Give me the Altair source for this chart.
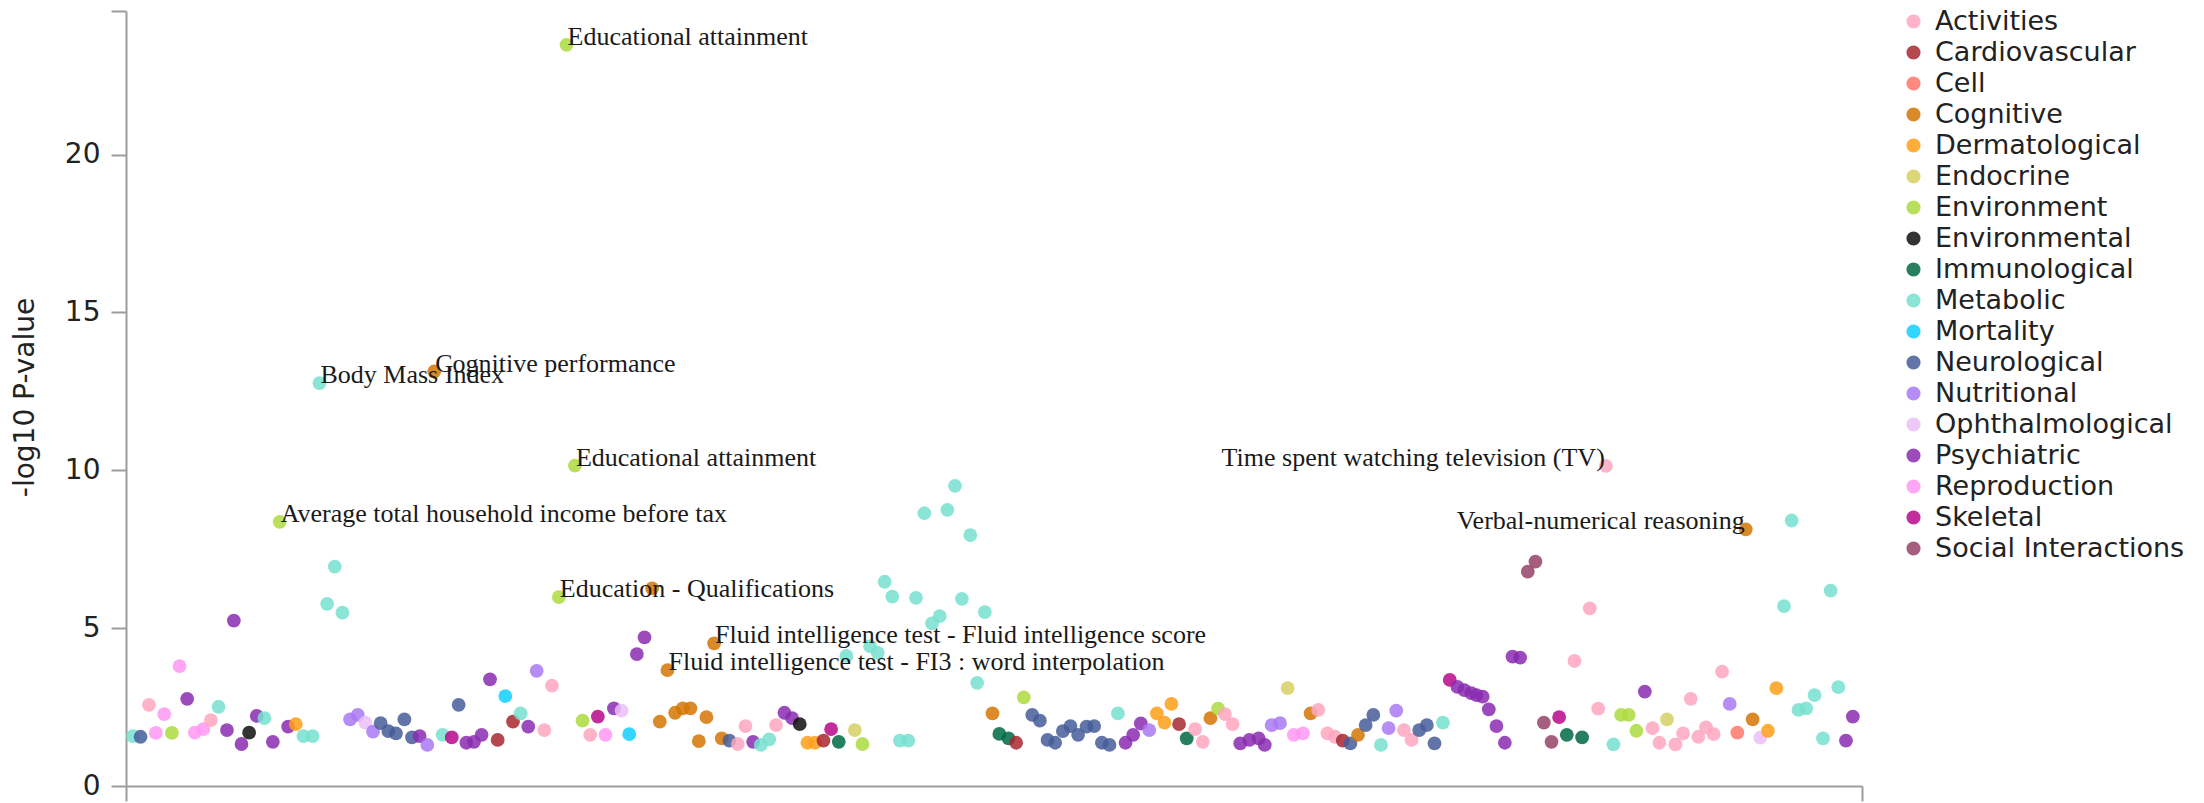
import altair as alt
import pandas as pd

# ---- category names and observed (rendered) colours ----
cat_codes = ["Act", "Car", "Cel", "Cog", "Der", "End", "Env", "Evl", "Imm",
             "Met", "Mor", "Neu", "Nut", "Oph", "Psy", "Rep", "Ske", "Soc"]
cat_names = ["Activities", "Cardiovascular", "Cell", "Cognitive", "Dermatological",
             "Endocrine", "Environment", "Environmental", "Immunological", "Metabolic",
             "Mortality", "Neurological", "Nutritional", "Ophthalmological",
             "Psychiatric", "Reproduction", "Skeletal", "Social Interactions"]
cat_rgb = [(255, 179, 201), (181, 71, 79), (255, 138, 128), (218, 138, 42),
           (255, 173, 58), (220, 215, 122), (184, 224, 90), (51, 51, 51),
           (14, 127, 95), (138, 229, 214), (51, 214, 255), (98, 117, 168),
           (182, 140, 245), (237, 200, 248), (155, 75, 188), (255, 166, 245),
           (194, 45, 155), (166, 94, 127)]

# ---- phenotype position (index order), -log10 P, category ----
pos = [0.9, 1.9, 3.0, 3.9, 5.0, 6.0, 7.0, 8.0, 9.0, 10.1, 11.1, 12.1, 13.2, 14.1, 15.1, 16.1,
       17.1, 18.1, 19.2, 20.1, 21.2, 22.2, 23.2, 24.4, 25.3, 26.3, 27.3, 28.3, 29.3, 30.3,
       31.3, 32.3, 33.3, 34.3, 35.3, 36.4, 37.4, 38.4, 39.4, 40.3, 41.4, 42.6, 43.5, 44.5,
       45.5, 46.5, 47.6, 48.6, 49.6, 50.6, 51.6, 52.6, 53.7, 54.7, 55.7, 56.6, 57.6, 58.7,
       59.7, 60.7, 61.7, 62.7, 63.8, 64.8, 65.8, 66.8, 67.8, 68.8, 69.8, 70.8, 71.8, 72.8,
       73.8, 74.9, 75.9, 76.9, 77.9, 78.9, 80.0, 81.0, 82.0, 83.0, 84.1, 85.0, 86.1, 87.1,
       88.1, 89.1, 90.1, 91.2, 92.2, 93.2, 94.2, 95.3, 96.3, 97.3, 98.3, 99.2, 100.2, 101.2,
       102.3, 103.3, 104.4, 105.4, 106.4, 107.4, 108.4, 109.3, 110.4, 111.3, 112.3, 113.3,
       114.2, 115.4, 116.4, 117.4, 118.5, 119.5, 120.5, 121.5, 122.5, 123.5, 124.5, 125.6,
       126.6, 127.6, 128.6, 129.7, 130.7, 131.7, 132.7, 133.8, 134.8, 135.8, 136.7, 137.7,
       138.7, 139.8, 140.8, 141.8, 142.8, 143.7, 144.7, 145.7, 146.9, 148.1, 148.9, 149.8,
       150.9, 151.9, 152.7, 153.9, 154.9, 155.9, 157.1, 158.1, 159.1, 160.1, 161.1, 162.1,
       163.1, 164.1, 165.1, 166.1, 167.1, 168.1, 169.1, 170.1, 171.1, 172.2, 173.1, 174.1,
       175.0, 175.9, 176.6, 177.4, 178.2, 179.2, 180.3, 181.3, 182.3, 183.3, 184.3, 185.4,
       186.4, 187.4, 188.4, 189.4, 190.4, 191.4, 192.5, 193.5, 194.5, 195.5, 196.5, 197.5,
       198.6, 199.6, 200.5, 201.5, 202.6, 203.6, 204.6, 205.6, 206.6, 207.6, 208.7, 209.7,
       210.7, 211.8, 212.7, 213.7, 214.7, 215.8, 216.8, 217.8, 218.7, 219.7, 220.8, 221.9,
       222.9, 223.9, 224.9, 225.8]

neglog10p = [1.58, 1.56, 2.57, 1.68, 2.28, 1.68, 3.80, 2.76, 1.69, 1.80, 2.09, 2.51, 1.77, 5.24,
             1.33, 1.69, 2.22, 2.15, 1.40, 8.37, 1.88, 1.96, 1.58, 1.58, 12.76, 5.77, 6.95, 5.49,
             2.11, 2.25, 2.01, 1.72, 1.99, 1.74, 1.67, 2.11, 1.54, 1.58, 1.30, 13.13, 1.62, 1.54,
             2.57, 1.37, 1.40, 1.62, 3.38, 1.46, 2.85, 2.04, 2.30, 1.88, 3.65, 1.77, 3.18, 5.98,
             23.48, 10.15, 2.07, 1.62, 2.20, 1.62, 2.46, 2.39, 1.64, 4.18, 4.71, 6.26, 2.04, 3.67,
             2.32, 2.46, 2.46, 1.42, 2.18, 4.52, 1.51, 1.44, 1.33, 1.90, 1.40, 1.30, 1.48, 1.93,
             2.32, 2.15, 1.96, 1.37, 1.37, 1.44, 1.80, 1.40, 4.12, 1.77, 1.33, 4.43, 4.22, 6.47,
             6.00, 1.44, 1.44, 5.96, 8.64, 5.15, 5.38, 8.75, 9.51, 5.93, 7.95, 3.27, 5.51, 2.30,
             1.65, 1.51, 1.37, 2.81, 2.25, 2.07, 1.46, 1.37, 1.74, 1.90, 1.62, 1.88, 1.90, 1.37,
             1.30, 2.30, 1.37, 1.62, 1.98, 1.77, 2.30, 2.01, 2.60, 1.96, 1.51, 1.80, 1.40, 2.15,
             2.45, 2.28, 1.96, 1.35, 1.46, 1.51, 1.30, 1.93, 1.99, 3.10, 1.62, 1.67, 2.30, 2.41,
             1.67, 1.56, 1.44, 1.35, 1.62, 1.93, 2.25, 1.30, 1.83, 2.39, 1.77, 1.46, 1.77, 1.93,
             1.35, 2.01, 3.36, 3.14, 3.04, 2.94, 2.88, 2.83, 2.43, 1.90, 1.37, 4.10, 4.07, 6.79,
             7.11, 2.01, 1.40, 2.18, 1.62, 3.96, 1.54, 5.63, 2.45, 10.14, 1.32, 2.25, 2.25, 1.75,
             2.99, 1.83, 1.37, 2.11, 1.32, 1.67, 2.76, 1.56, 1.86, 1.64, 3.62, 2.60, 1.69, 8.13,
             2.11, 1.53, 1.75, 3.10, 5.70, 8.41, 2.41, 2.46, 2.88, 1.51, 6.19, 3.13, 1.44, 2.20]

category = ["Met", "Neu", "Act", "Rep", "Rep", "Env", "Rep", "Psy", "Rep", "Rep", "Act", "Met",
            "Psy", "Psy", "Psy", "Evl", "Psy", "Met", "Psy", "Env", "Psy", "Der", "Met", "Met",
            "Met", "Met", "Met", "Met", "Nut", "Nut", "Oph", "Nut", "Neu", "Neu", "Neu", "Neu",
            "Neu", "Psy", "Nut", "Cog", "Met", "Ske", "Neu", "Psy", "Psy", "Psy", "Psy", "Car",
            "Mor", "Car", "Met", "Psy", "Nut", "Act", "Act", "Env", "Env", "Env", "Env", "Act",
            "Ske", "Rep", "Psy", "Oph", "Mor", "Psy", "Psy", "Cog", "Cog", "Cog", "Cog", "Cog",
            "Cog", "Cog", "Cog", "Cog", "Cog", "Neu", "Act", "Act", "Psy", "Met", "Met", "Act",
            "Psy", "Psy", "Evl", "Der", "Der", "Car", "Ske", "Imm", "Met", "End", "Env", "Met",
            "Met", "Met", "Met", "Met", "Met", "Met", "Met", "Met", "Met", "Met", "Met", "Met",
            "Met", "Met", "Met", "Cog", "Imm", "Imm", "Car", "Env", "Neu", "Neu", "Neu", "Neu",
            "Neu", "Neu", "Neu", "Neu", "Neu", "Neu", "Neu", "Met", "Psy", "Psy", "Psy", "Nut",
            "Der", "Der", "Der", "Car", "Imm", "Act", "Act", "Cog", "Env", "Act", "Act", "Psy",
            "Psy", "Psy", "Psy", "Nut", "Nut", "End", "Rep", "Rep", "Cog", "Act", "Act", "Act",
            "Car", "Neu", "Cog", "Neu", "Neu", "Met", "Nut", "Nut", "Act", "Act", "Neu", "Neu",
            "Neu", "Met", "Ske", "Psy", "Psy", "Psy", "Psy", "Psy", "Psy", "Psy", "Psy", "Psy",
            "Psy", "Soc", "Soc", "Soc", "Soc", "Ske", "Imm", "Act", "Imm", "Act", "Act", "Act",
            "Met", "Env", "Env", "Env", "Psy", "Act", "Act", "End", "Act", "Act", "Act", "Act",
            "Act", "Act", "Act", "Nut", "Cel", "Cog", "Cog", "Oph", "Der", "Der", "Met", "Met",
            "Met", "Met", "Met", "Met", "Met", "Met", "Psy", "Psy"]

# ---- annotated phenotypes: position -> (text, side of the point) ----
annotations = {
    20.1: ("Average total household income before tax", "left"),
    25.3: ("Body Mass Index", "left"),
    40.3: ("Cognitive performance", "left"),
    56.6: ("Education - Qualifications", "left"),
    57.6: ("Educational attainment", "left"),
    58.7: ("Educational attainment", "left"),
    70.8: ("Fluid intelligence test - FI3 : word interpolation", "left"),
    76.9: ("Fluid intelligence test - Fluid intelligence score", "left"),
    193.5: ("Time spent watching television (TV)", "right"),
    211.8: ("Verbal-numerical reasoning", "right"),
}

x_domain = [0, 227]
y_domain = [0, 24.55]
y_ticks = [0, 5, 10, 15, 20]

# ---------------------------------------------------------------
ALPHA = 0.85


def base_color(rgb, a=ALPHA):
    return "#%02x%02x%02x" % tuple(
        max(0, min(255, round(255 - (255 - v) / a))) for v in rgb)


name_of = dict(zip(cat_codes, cat_names))
colors = [base_color(c) for c in cat_rgb]

df = pd.DataFrame({
    "pos": pos,
    "p": neglog10p,
    "Category": [name_of[c] for c in category],
})
df["label"] = [annotations.get(v, ("", ""))[0] for v in pos]
df["side"] = [annotations.get(v, ("", ""))[1] for v in pos]

axis_grey = "#9d9d9d"

x_enc = alt.X("pos:Q", scale=alt.Scale(domain=x_domain, nice=False, zero=False),
              axis=alt.Axis(values=x_domain, labels=False, tickSize=15, tickWidth=2,
                            tickColor=axis_grey, domainColor=axis_grey, domainWidth=2,
                            grid=False, title=None))
y_enc = alt.Y("p:Q", scale=alt.Scale(domain=y_domain, nice=False),
              axis=alt.Axis(values=y_ticks + [y_domain[1]],
                            labelExpr="datum.value > 22 ? '' : datum.label",
                            tickSize=15, tickWidth=2, tickColor=axis_grey,
                            domainColor=axis_grey, domainWidth=2, grid=False,
                            labelFont="DejaVu Sans", labelFontSize=28, labelColor="#222222",
                            labelPadding=11,
                            title="-log10 P-value", titleFont="DejaVu Sans",
                            titleFontSize=28, titleFontWeight="normal",
                            titleColor="#222222", titleAngle=270, titleX=-101, titleY=386,
                            titleAlign="center", titleBaseline="middle"))

points = alt.Chart(df).mark_circle(size=190, opacity=ALPHA).encode(
    x=x_enc,
    y=y_enc,
    color=alt.Color("Category:N",
                    scale=alt.Scale(domain=cat_names, range=colors),
                    legend=alt.Legend(orient="none", legendX=1774, legendY=-3, title=None,
                                      labelFont="DejaVu Sans", labelFontSize=27,
                                      labelColor="#222222", symbolType="circle",
                                      symbolSize=200, symbolStrokeWidth=0,
                                      rowPadding=3, labelOffset=8, padding=0,
                                      labelLimit=400)),
)

text_left = alt.Chart(df).transform_filter(alt.datum.side == "left").mark_text(
    font="Liberation Serif", fontSize=26, align="left", baseline="alphabetic",
    color="#1a1a1a", dx=1).encode(x="pos:Q", y="p:Q", text="label:N")

text_right = alt.Chart(df).transform_filter(alt.datum.side == "right").mark_text(
    font="Liberation Serif", fontSize=26, align="right", baseline="alphabetic",
    color="#1a1a1a", dx=-1).encode(x="pos:Q", y="p:Q", text="label:N")

chart = alt.layer(points, text_left, text_right).properties(
    width=1736, height=775,
    autosize=alt.AutoSizeParams(type="none"),
    padding={"left": 118, "top": 3, "right": 330, "bottom": 16},
).configure_view(stroke=None)

chart.save("out.html", embed_options={"renderer": "svg", "actions": False})
